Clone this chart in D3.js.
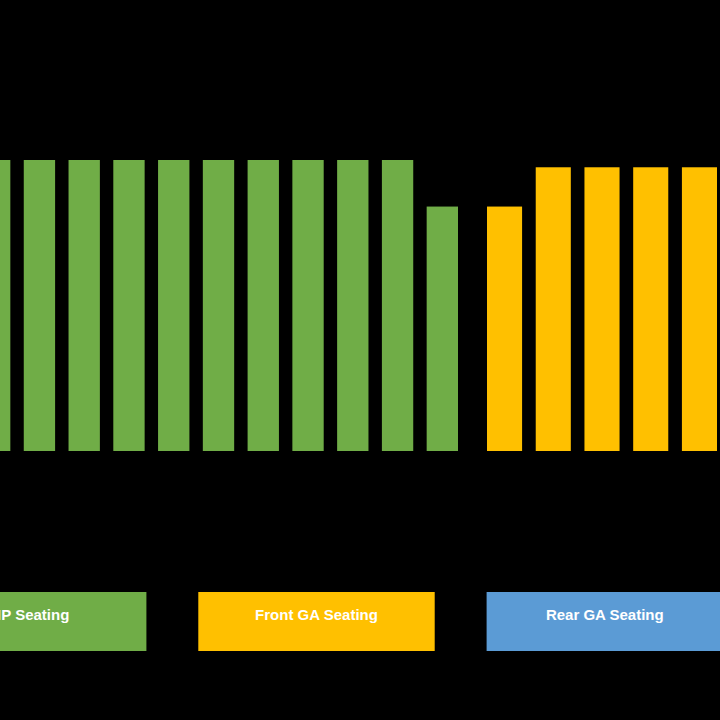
<!DOCTYPE html>
<html>
<head>
<meta charset="utf-8">
<script src="https://cdn.jsdelivr.net/npm/d3@7"></script>
<style>
  html, body { margin: 0; padding: 0; background: #000; }
  svg { display: block; }
</style>
</head>
<body>
<div class="container"></div>
<script>
// bar data: one entry per seating block, grouped by section
const vipBlocks = ["V1", "V2", "V3", "V4", "V5", "V6", "V7", "V8", "V9", "V10", "V11"];
const vipValues = [100, 100, 100, 100, 100, 100, 100, 100, 100, 100, 84];
const frontBlocks = ["F1", "F2", "F3", "F4", "F5"];
const frontValues = [84, 97.5, 97.5, 97.5, 97.5];

// legend
const legendLabels = ["VIP Seating", "Front GA Seating", "Rear GA Seating"];
const legendColors = ["#70AD47", "#FFC000", "#5B9BD5"];

const width = 720,
    height = 720;

const svg = d3.select("div.container").append("svg")
    .attr("width", width)
    .attr("height", height)
    .style("background", "#000");

// value scale shared by both sections
const y = d3.scaleLinear()
    .domain([0, 100])
    .range([451, 160]);

// each section gets its own band scale
const xVip = d3.scaleBand()
    .domain(vipBlocks)
    .range([-21, 458])
    .paddingInner(0.30)
    .paddingOuter(0);

const xFront = d3.scaleBand()
    .domain(frontBlocks)
    .range([487, 717])
    .paddingInner(0.28)
    .paddingOuter(0);

function drawSection(cls, blocks, values, x, color) {
    svg.append("g").attr("class", cls)
        .selectAll("rect")
        .data(blocks)
        .enter()
        .append("rect")
        .attr("x", d => x(d))
        .attr("y", (d, i) => y(values[i]))
        .attr("width", x.bandwidth())
        .attr("height", (d, i) => y(0) - y(values[i]))
        .attr("fill", color);
}

drawSection("vip", vipBlocks, vipValues, xVip, legendColors[0]);
drawSection("front", frontBlocks, frontValues, xFront, legendColors[1]);

// legend boxes along the bottom
const xLegend = d3.scaleBand()
    .domain(legendLabels)
    .range([-90, 723])
    .paddingInner(0.18)
    .paddingOuter(0);

const legend = svg.append("g").attr("id", "legend")
    .attr("transform", "translate(0,592)");

const item = legend.selectAll("g")
    .data(legendLabels)
    .enter()
    .append("g")
    .attr("transform", d => `translate(${xLegend(d)},0)`);

item.append("rect")
    .attr("width", xLegend.bandwidth())
    .attr("height", 59)
    .attr("fill", (d, i) => legendColors[i]);

item.append("text")
    .attr("x", xLegend.bandwidth() / 2)
    .attr("y", 24)
    .attr("text-anchor", "middle")
    .attr("dominant-baseline", "middle")
    .style("font-family", "'Liberation Sans', Arial, sans-serif")
    .style("font-weight", "bold")
    .style("font-size", "15px")
    .style("fill", "#fff")
    .text(d => d);
</script>
</body>
</html>
